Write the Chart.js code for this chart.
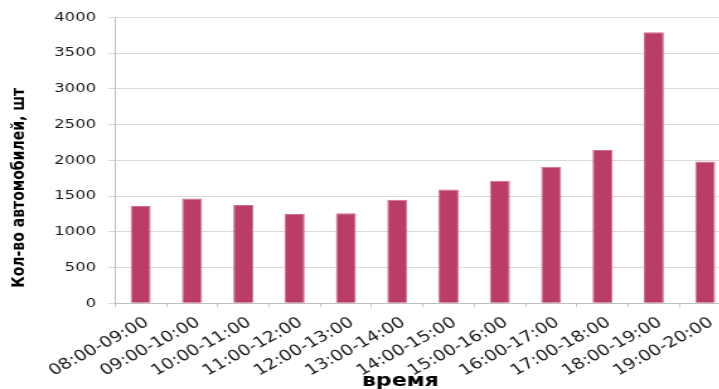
<!DOCTYPE html>
<html lang="ru">
<head>
<meta charset="utf-8">
<title>Кол-во автомобилей по часам</title>
<script src="https://cdn.jsdelivr.net/npm/chart.js@4/dist/chart.umd.min.js"></script>
<style>
  html, body { margin: 0; padding: 0; width: 719px; height: 389px; overflow: hidden; background: #ffffff; }
  /* the chart is laid out narrow and widened horizontally */
  #wrap { width: 580px; height: 389px; transform: scaleX(1.26); transform-origin: 0 0; }
  canvas { display: block; }
</style>
</head>
<body>
<div id="wrap"><canvas id="chart" width="580" height="389"></canvas></div>
<script>
// hourly intervals
const categories = [
  "08:00-09:00", "09:00-10:00", "10:00-11:00", "11:00-12:00",
  "12:00-13:00", "13:00-14:00", "14:00-15:00", "15:00-16:00",
  "16:00-17:00", "17:00-18:00", "18:00-19:00", "19:00-20:00"
];
// vehicles counted in each interval
const vehicleCounts = [1360, 1465, 1375, 1250, 1260, 1450, 1590, 1715, 1910, 2145, 3790, 1985];
// value axis range
const yMin = 0;
const yMax = 4000;
const yStep = 500;

const yTitle = "Кол-во автомобилей, шт";
const xTitle = "время";

// axis titles placed relative to the plot area
const axisTitles = {
  id: "axisTitles",
  afterDraw(chart) {
    const { ctx, chartArea } = chart;
    ctx.save();
    ctx.fillStyle = "#000000";
    ctx.textAlign = "center";
    ctx.textBaseline = "middle";
    ctx.font = "bold 14px 'DejaVu Sans', Verdana, sans-serif";
    ctx.translate(chartArea.left - 75.5, (chartArea.top + chartArea.bottom) / 2 + 27.5);
    ctx.rotate(-Math.PI / 2);
    ctx.fillText(yTitle, 0, 0);
    ctx.restore();

    ctx.save();
    ctx.fillStyle = "#000000";
    ctx.textAlign = "center";
    ctx.textBaseline = "middle";
    ctx.font = "bold 17.5px 'DejaVu Sans', Verdana, sans-serif";
    ctx.fillText(xTitle, chartArea.left + 226.5, chartArea.bottom + 78);
    ctx.restore();
  }
};

new Chart(document.getElementById("chart"), {
  type: "bar",
  data: {
    labels: categories,
    datasets: [{
      data: vehicleCounts,
      backgroundColor: "#BA3D67",
      borderColor: "#CF6E90",
      borderWidth: 1,
      categoryPercentage: 1,
      barPercentage: 0.39
    }]
  },
  options: {
    responsive: false,
    animation: false,
    layout: { padding: { left: 33.6, top: 17, right: 0, bottom: 2.6 } },
    plugins: { legend: { display: false }, tooltip: { enabled: false } },
    scales: {
      x: {
        grid: { drawOnChartArea: false, drawTicks: true, tickLength: 4, color: "#c8c8c8" },
        border: { color: "#bfbfbf" },
        ticks: {
          autoSkip: false,
          minRotation: 34,
          maxRotation: 34,
          padding: 6.4,
          labelOffset: 5,
          color: "#1a1a1a",
          font: { family: "'DejaVu Sans', Verdana, sans-serif", size: 15 }
        }
      },
      y: {
        min: yMin,
        max: yMax,
        grid: { color: "#d9d9d9", tickLength: 5.6 },
        border: { color: "#bfbfbf" },
        ticks: {
          stepSize: yStep,
          padding: 9.5,
          color: "#1a1a1a",
          font: { family: "'DejaVu Sans', Verdana, sans-serif", size: 13 },
          callback: (value) => String(value)
        }
      }
    }
  },
  plugins: [axisTitles]
});
</script>
</body>
</html>
